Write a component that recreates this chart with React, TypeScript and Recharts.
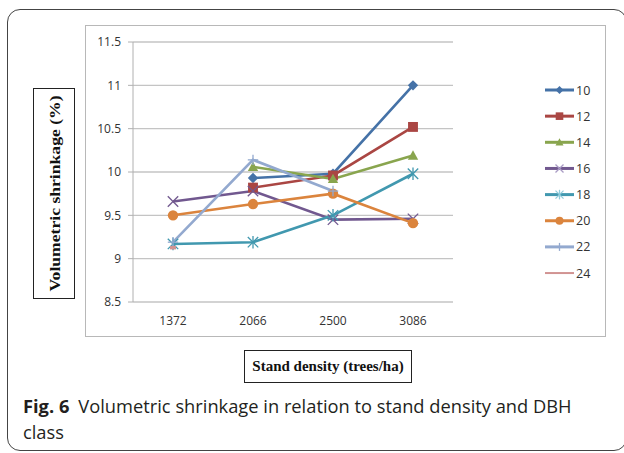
import React from 'react';
import { LineChart, Line, XAxis, YAxis, CartesianGrid, Legend } from 'recharts';

const categories = ['1372', '2066', '2500', '3086'];
const yTicks = [8.5, 9, 9.5, 10, 10.5, 11, 11.5];
const yTickLabels = ['8.5', '9', '9.5', '10', '10.5', '11', '11.5'];

const s10 = [null, 9.93, 9.98, 11.0];
const s12 = [null, 9.82, 9.96, 10.52];
const s14 = [null, 10.06, 9.92, 10.19];
const s16 = [9.66, 9.78, 9.45, 9.46];
const s18 = [9.17, 9.19, 9.5, 9.98];
const s20 = [9.5, 9.63, 9.75, 9.41];
const s22 = [9.19, 10.14, 9.78, null];
const s24 = [9.13, null, null, null];

const seriesNames = ['10', '12', '14', '16', '18', '20', '22', '24'];
const seriesValues = [s10, s12, s14, s16, s18, s20, s22, s24];
const seriesColors = ['#4572A7', '#AA4643', '#89A54E', '#71588F', '#4198AF', '#DB843D', '#93A9CF', '#D19392'];
const seriesShapes = ['diamond', 'square', 'triangle', 'x', 'star', 'circle', 'plus', 'dash'];

const data = categories.map((c, i) => {
  const row: any = { x: i + 0.5, cat: c };
  seriesValues.forEach((vals, k) => {
    row['s' + seriesNames[k]] = vals[i];
  });
  return row;
});

function Marker({ shape, color, cx, cy, r, legend }: any) {
  switch (shape) {
    case 'diamond':
      return <path d={`M${cx},${cy - r} L${cx + r},${cy} L${cx},${cy + r} L${cx - r},${cy} Z`} fill={color} />;
    case 'square':
      return <rect x={cx - r * 0.95} y={cy - r * 0.95} width={r * 1.9} height={r * 1.9} fill={color} />;
    case 'triangle':
      return <path d={`M${cx},${cy - r} L${cx + r},${cy + r * 0.8} L${cx - r},${cy + r * 0.8} Z`} fill={color} />;
    case 'x':
      return (
        <g stroke={legend ? '#A99BC4' : color} strokeWidth={1.3}>
          <line x1={cx - r} y1={cy - r} x2={cx + r} y2={cy + r} />
          <line x1={cx - r} y1={cy + r} x2={cx + r} y2={cy - r} />
        </g>
      );
    case 'star':
      return (
        <g stroke={legend ? '#8FCBDB' : color} strokeWidth={1.3}>
          <line x1={cx - r} y1={cy - r} x2={cx + r} y2={cy + r} />
          <line x1={cx - r} y1={cy + r} x2={cx + r} y2={cy - r} />
          <line x1={cx} y1={cy - r * 1.2} x2={cx} y2={cy + r * 1.2} />
        </g>
      );
    case 'circle':
      return <circle cx={cx} cy={cy} r={r} fill={color} />;
    case 'plus':
      return (
        <g stroke={color} strokeWidth={1.3}>
          <line x1={cx - r} y1={cy} x2={cx + r} y2={cy} />
          <line x1={cx} y1={cy - r} x2={cx} y2={cy + r} />
        </g>
      );
    case 'dash':
      return legend ? null : <rect x={cx - 3} y={cy - 1.5} width={6} height={3.5} fill={color} />;
    default:
      return null;
  }
}

function makeDot(k: number) {
  return (props: any) => {
    const { cx, cy, index } = props;
    const key = `dot-${k}-${index}`;
    if (cx == null || cy == null || isNaN(cx) || isNaN(cy)) return <g key={key} />;
    return (
      <g key={key}>
        <Marker shape={seriesShapes[k]} color={seriesColors[k]} cx={cx} cy={cy} r={5.2} />
      </g>
    );
  };
}

function LegendBox() {
  return (
    <svg width={70} height={220} style={{ display: 'block', overflow: 'visible' }}>
      {seriesNames.map((n, k) => {
        const y = 13 + k * 26.15;
        return (
          <g key={n}>
            <line x1={5} y1={y} x2={34} y2={y} stroke={seriesColors[k]} strokeWidth={k === 7 ? 2 : 3} />
            <Marker shape={seriesShapes[k]} color={seriesColors[k]} cx={19.5} cy={y} r={4} legend />
            <text x={36} y={y} dominantBaseline="central" fontSize={12.5} fill="#333" fontFamily="'Open Sans', sans-serif">
              {n}
            </text>
          </g>
        );
      })}
    </svg>
  );
}

const tickStyle = { fontSize: 12, fill: '#333', fontFamily: "'Open Sans', sans-serif" };

export default function App() {
  return (
    <div style={{ position: 'absolute', left: 0, top: 0, width: 624, height: 453, overflow: 'hidden', background: '#fff' }}>
      <div
        style={{
          position: 'absolute', left: 7, top: 9, width: 620, height: 442, boxSizing: 'border-box',
          border: '1px solid #444', borderRadius: 13,
        }}
      />
      <div
        style={{
          position: 'absolute', left: 85, top: 25, width: 521, height: 312, boxSizing: 'border-box',
          border: '1.5px solid #b8b8b8',
        }}
      />
      <div
        style={{
          position: 'absolute', left: 33, top: 88, width: 42, height: 211, boxSizing: 'border-box',
          border: '1px solid #222',
        }}
      >
        <svg width={40} height={209} style={{ display: 'block' }}>
          <text
            transform="translate(20.5,104.5) rotate(-90)"
            textAnchor="middle"
            dominantBaseline="central"
            fontSize={15}
            fontWeight="bold"
            textLength={196}
            lengthAdjust="spacingAndGlyphs"
            fontFamily="'Liberation Serif', 'Times New Roman', serif"
            fill="#111"
          >
            Volumetric shrinkage (%)
          </text>
        </svg>
      </div>
      <div
        style={{
          position: 'absolute', left: 244, top: 350, width: 168, height: 33, boxSizing: 'border-box',
          border: '1px solid #222', display: 'flex', alignItems: 'center', justifyContent: 'center',
          fontFamily: "'Liberation Serif', 'Times New Roman', serif", fontWeight: 'bold', fontSize: 15, color: '#111',
        }}
      >
        Stand density (trees/ha)
      </div>
      <div
        style={{
          position: 'absolute', left: 23, top: 393, fontFamily: "'Open Sans', sans-serif", fontSize: 18.3,
          lineHeight: '25.7px', color: '#231f20', whiteSpace: 'nowrap',
        }}
      >
        <b>Fig. 6</b>
        <span style={{ marginLeft: 9 }}>Volumetric shrinkage in relation to stand density and DBH</span>
        <br />
        class
      </div>
      <div style={{ position: 'absolute', left: 0, top: 0 }}>
        <LineChart width={624} height={453} data={data} margin={{ top: 42, right: 101, bottom: 121, left: 93 }}>
          <CartesianGrid horizontal vertical={false} stroke="#c4c4c4" strokeWidth={1.3} />
          <XAxis
            xAxisId={0}
            dataKey="x"
            type="number"
            domain={[0, 4]}
            ticks={[0, 1, 2, 3, 4]}
            interval={0}
            tickFormatter={() => ''}
            tickSize={5}
            height={0}
            stroke="#b0b0b0"
            tick={tickStyle}
          />
          <XAxis
            xAxisId="cat"
            dataKey="x"
            type="number"
            domain={[0, 4]}
            ticks={[0.5, 1.5, 2.5, 3.5]}
            interval={0}
            tickFormatter={(v: number) => categories[Math.floor(v)]}
            axisLine={false}
            tickLine={false}
            tickSize={0}
            tickMargin={14}
            height={30}
            tick={tickStyle}
          />
          <YAxis
            type="number"
            domain={[8.5, 11.5]}
            ticks={yTicks}
            interval={0}
            tickFormatter={(v: number) => yTickLabels[yTicks.indexOf(v)]}
            width={40}
            tickSize={5}
            tickMargin={7}
            stroke="#b0b0b0"
            tick={tickStyle}
          />
          <Legend
            layout="horizontal"
            verticalAlign="middle"
            align="right"
            wrapperStyle={{ position: 'absolute', left: 540, top: 77, width: 70, height: 220 }}
            content={() => <LegendBox />}
          />
          {seriesNames.map((n, k) => (
            <Line
              key={n}
              dataKey={'s' + n}
              name={n}
              stroke={seriesColors[k]}
              strokeWidth={2.6}
              dot={makeDot(k)}
              activeDot={false}
              isAnimationActive={false}
            />
          ))}
        </LineChart>
      </div>
    </div>
  );
}
